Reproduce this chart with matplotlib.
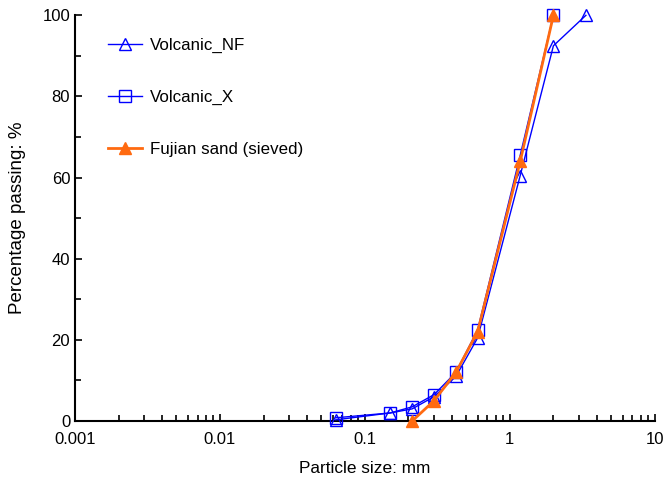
import numpy as np
import matplotlib.pyplot as plt
from matplotlib.ticker import LogLocator, FixedLocator, NullFormatter

plt.rcParams['font.family'] = ['Liberation Sans', 'DejaVu Sans']

# sieve sizes (mm) and percentage passing
size_nf = [0.063, 0.15, 0.212, 0.3, 0.425, 0.6, 1.18, 2.0, 3.35]
pass_nf = [0.3, 2.0, 3.0, 6.0, 11.0, 20.5, 60.5, 92.5, 100.0]

size_x = [0.063, 0.15, 0.212, 0.3, 0.425, 0.6, 1.18, 2.0]
pass_x = [0.8, 2.0, 3.5, 6.5, 12.0, 22.5, 65.5, 100.0]

size_fj = [0.212, 0.3, 0.425, 0.6, 1.18, 2.0]
pass_fj = [0.0, 5.0, 12.0, 22.0, 64.0, 100.0]

fig = plt.figure(figsize=(6.64, 4.79), dpi=100)
ax = fig.add_axes([0.113, 0.121, 0.873, 0.847])

blue = '#0000FF'
orange = '#FF6A10'
ax.plot(size_nf, pass_nf, color=blue, lw=1, marker='^', ms=9, mfc='none',
        mec=blue, mew=1, label='Volcanic_NF', clip_on=False, zorder=3)
ax.plot(size_x, pass_x, color=blue, lw=1, marker='s', ms=8, mfc='none',
        mec=blue, mew=1, label='Volcanic_X', clip_on=False, zorder=3)
ax.plot(size_fj, pass_fj, color=orange, lw=2, marker='^', ms=9, mfc=orange,
        mec=orange, label='Fujian sand (sieved)', clip_on=False, zorder=4)

ax.set_xscale('log')
ax.set_xlim(0.001, 10)
ax.set_ylim(0, 100)
ax.set_xticks([0.001, 0.01, 0.1, 1, 10])
ax.set_xticklabels(['0.001', '0.01', '0.1', '1', '10'])
ax.xaxis.set_minor_locator(LogLocator(base=10, subs=np.arange(2, 10)))
ax.xaxis.set_minor_formatter(NullFormatter())
ax.set_yticks(np.arange(0, 101, 20))
ax.yaxis.set_minor_locator(FixedLocator(np.arange(10, 100, 20)))

ax.tick_params(which='both', direction='in', labelsize=12, width=1.2)
ax.tick_params(which='major', length=5)
ax.tick_params(which='minor', length=4)
ax.tick_params(axis='x', pad=8)

for side in ['top', 'right']:
    ax.spines[side].set_visible(False)
for side in ['left', 'bottom']:
    ax.spines[side].set_linewidth(1.5)

ax.set_xlabel('Particle size: mm', fontsize=12.4, labelpad=10)
ax.set_ylabel('Percentage passing: %', fontsize=13.5, labelpad=12)

ax.legend(loc='upper left', bbox_to_anchor=(0.03, 0.983), frameon=False,
          fontsize=12.2, labelspacing=2.2, handlelength=2.0, handletextpad=0.5)

fig.savefig('out.png', dpi=100)
